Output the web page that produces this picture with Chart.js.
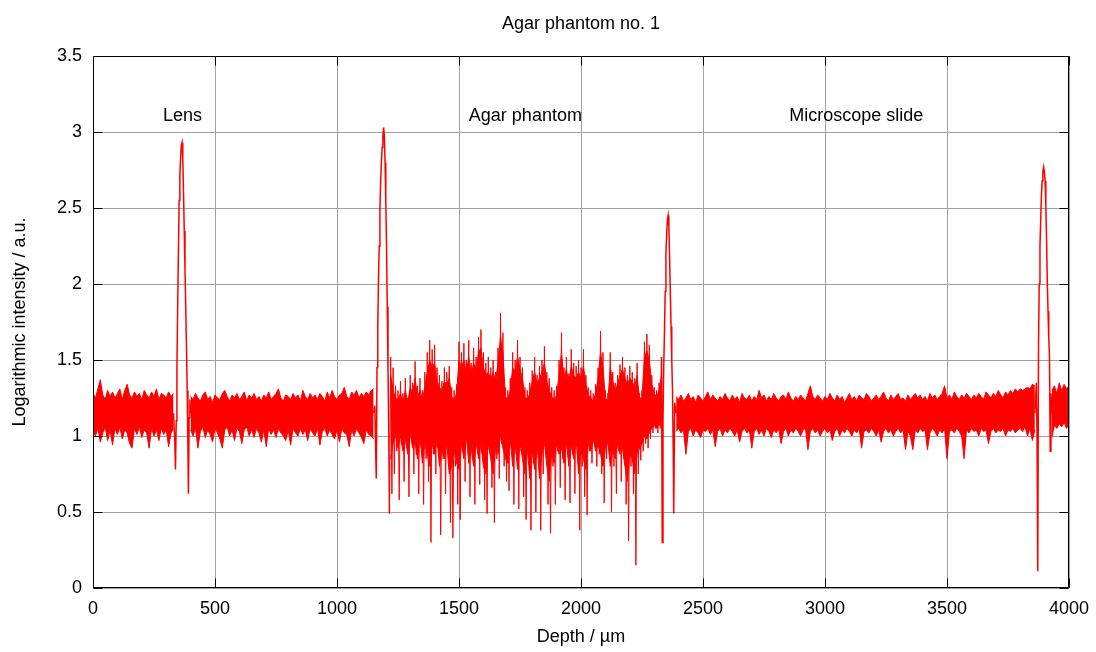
<!DOCTYPE html>
<html>
<head>
<meta charset="utf-8">
<script src="https://cdn.jsdelivr.net/npm/chart.js@4.4.1/dist/chart.umd.min.js"></script>
<style>
html,body{margin:0;padding:0;background:#fff;}
#wrap{width:1096px;height:652px;}
</style>
</head>
<body>
<div id="wrap"><canvas id="c" width="1096" height="652"></canvas></div>
<script>
// ===== data: depth in µm, logarithmic intensity in a.u. =====
// Dense noise bands (upper / lower edge of the densely sampled signal, read per 10 µm)
const airDepth = [0,10,20,30,40,50,60,70,80,90,100,110,120,130,140,150,160,170,180,190,200,210,220,230,240,250,260,270,280,290,300,310,320,330];
const airUpper = [1.28,1.25,1.31,1.37,1.27,1.24,1.30,1.26,1.29,1.25,1.28,1.31,1.24,1.30,1.34,1.27,1.25,1.29,1.26,1.28,1.24,1.30,1.27,1.25,1.29,1.26,1.31,1.24,1.28,1.27,1.25,1.29,1.26,1.28];
const airLower = [1.03,1.00,1.05,0.96,1.02,1.06,0.97,1.04,0.94,1.05,1.01,1.06,0.98,1.04,1.02,0.95,0.92,1.05,1.01,1.06,0.99,1.04,1.02,0.92,1.05,1.00,1.04,0.97,1.05,1.01,1.04,0.93,1.02,1.05];

const gapDepth = [400,410,420,430,440,450,460,470,480,490,500,510,520,530,540,550,560,570,580,590,600,610,620,630,640,650,660,670,680,690,700,710,720,730,740,750,760,770,780,790,800,810,820,830,840,850,860,870,880,890,900,910,920,930,940,950,960,970,980,990,1000,1010,1020,1030,1040,1050,1060,1070,1080,1090,1100,1110,1120,1130,1140,1150];
const gapUpper = [1.26,1.24,1.28,1.25,1.23,1.27,1.29,1.24,1.26,1.22,
  1.27,1.25,1.24,1.28,1.30,1.26,1.23,1.27,1.25,1.28,
  1.24,1.26,1.29,1.23,1.27,1.25,1.28,1.24,1.26,1.23,
  1.27,1.25,1.29,1.24,1.26,1.28,1.31,1.25,1.23,1.27,
  1.26,1.24,1.28,1.25,1.27,1.23,1.30,1.26,1.24,1.28,
  1.25,1.27,1.24,1.28,1.26,1.23,1.29,1.25,1.30,1.26,
  1.24,1.27,1.28,1.32,1.26,1.24,1.29,1.27,1.30,1.25,
  1.28,1.26,1.29,1.27,1.30,1.31];
const gapLower = [1.04,1.00,1.05,0.92,1.03,1.06,0.99,1.04,1.01,0.96,
  1.05,1.02,0.98,0.92,1.04,1.06,1.00,1.04,0.97,1.05,
  1.03,0.95,1.04,1.06,1.00,1.04,0.99,1.05,1.02,0.96,
  1.04,0.93,1.05,1.01,1.04,0.99,1.05,1.02,1.00,0.97,
  1.04,0.94,1.05,1.02,1.00,1.05,1.01,1.04,0.97,1.05,
  1.02,1.00,1.05,0.94,1.03,1.05,1.00,1.04,1.01,0.98,
  1.04,0.96,1.05,1.02,1.01,0.93,1.04,1.00,1.05,1.02,
  0.99,0.95,1.04,1.01,1.00,0.98];

const agarCoreDepth = [1220,1230,1240,1250,1260,1270,1280,1290,1300,1310,
  1320,1330,1340,1350,1360,1370,1380,1390,1400,1410,
  1420,1430,1440,1450,1460,1470,1480,1490,1500,1510,
  1520,1530,1540,1550,1560,1570,1580,1590,1600,1610,
  1620,1630,1640,1650,1660,1670,1680,1690,1700,1710,
  1720,1730,1740,1750,1760,1770,1780,1790,1800,1810,
  1820,1830,1840,1850,1860,1870,1880,1890,1900,1910,
  1920,1930,1940,1950,1960,1970,1980,1990,2000,2010,
  2020,2030,2040,2050,2060,2070,2080,2090,2100,2110,
  2120,2130,2140,2150,2160,2170,2180,2190,2200,2210,
  2220,2230,2240,2250,2260,2270,2280,2290,2300,2310,
  2320,2330];
const agarCoreUpper = [1.40,1.30,1.25,1.24,1.28,1.22,1.30,1.22,1.32,1.28,
  1.38,1.26,1.30,1.24,1.32,1.42,1.50,1.45,1.48,1.36,
  1.32,1.30,1.36,1.34,1.38,1.26,1.24,1.28,1.50,1.45,
  1.50,1.42,1.52,1.40,1.48,1.44,1.55,1.58,1.45,1.40,
  1.42,1.38,1.42,1.36,1.48,1.65,1.55,1.26,1.24,1.30,
  1.45,1.42,1.52,1.44,1.38,1.26,1.24,1.28,1.36,1.42,
  1.34,1.38,1.42,1.48,1.36,1.30,1.26,1.24,1.27,1.40,
  1.55,1.38,1.44,1.35,1.46,1.40,1.38,1.42,1.38,1.46,
  1.34,1.27,1.25,1.23,1.28,1.38,1.55,1.45,1.25,1.23,
  1.45,1.36,1.30,1.34,1.40,1.44,1.38,1.34,1.38,1.36,
  1.32,1.40,1.24,1.26,1.52,1.56,1.50,1.34,1.28,1.26,
  1.30,1.40];
const agarCoreLower = [0.85,0.95,1.00,0.92,1.00,0.90,0.98,0.88,1.02,0.92,
  0.95,0.85,1.00,0.82,0.95,0.88,0.80,0.95,0.88,0.98,
  0.80,0.92,0.85,0.95,0.75,0.80,0.90,0.82,0.78,0.95,
  0.85,1.00,0.82,0.92,0.80,0.96,0.85,0.95,0.80,0.75,
  0.95,0.85,0.75,0.92,0.88,1.00,0.92,0.85,0.82,0.98,
  0.80,0.95,0.78,0.96,0.85,0.75,0.92,0.72,0.90,0.78,
  0.94,0.72,0.88,0.96,0.80,0.70,0.90,0.82,0.95,0.88,
  0.92,0.82,0.96,0.80,0.94,0.85,0.98,0.75,0.90,0.85,
  0.78,0.95,0.90,0.98,0.90,0.94,0.88,0.80,0.92,0.96,
  0.80,0.90,0.85,0.95,0.88,0.92,0.80,0.70,0.88,0.85,
  0.75,0.88,0.92,0.95,1.00,0.98,1.02,1.05,1.07,1.05,
  1.07,1.10];

const slideDepth = [2390,2400,2410,2420,2430,2440,2450,2460,2470,2480,
  2490,2500,2510,2520,2530,2540,2550,2560,2570,2580,
  2590,2600,2610,2620,2630,2640,2650,2660,2670,2680,
  2690,2700,2710,2720,2730,2740,2750,2760,2770,2780,
  2790,2800,2810,2820,2830,2840,2850,2860,2870,2880,
  2890,2900,2910,2920,2930,2940,2950,2960,2970,2980,
  2990,3000,3010,3020,3030,3040,3050,3060,3070,3080,
  3090,3100,3110,3120,3130,3140,3150,3160,3170,3180,
  3190,3200,3210,3220,3230,3240,3250,3260,3270,3280,
  3290,3300,3310,3320,3330,3340,3350,3360,3370,3380,
  3390,3400,3410,3420,3430,3440,3450,3460,3470,3480,
  3490,3500,3510,3520,3530,3540,3550,3560,3570,3580,
  3590,3600,3610,3620,3630,3640,3650,3660,3670,3680,
  3690,3700,3710,3720,3730,3740,3750,3760,3770,3780,
  3790,3800,3810,3820,3830,3840,3850,3860];
const slideUpper = [1.26,1.24,1.27,1.23,1.25,1.28,1.24,1.26,1.22,1.27,
  1.25,1.23,1.26,1.29,1.24,1.27,1.25,1.23,1.26,1.24,
  1.28,1.25,1.23,1.27,1.24,1.26,1.22,1.28,1.25,1.24,
  1.27,1.23,1.26,1.24,1.30,1.25,1.27,1.23,1.26,1.24,
  1.28,1.25,1.23,1.26,1.27,1.24,1.29,1.25,1.23,1.26,
  1.24,1.27,1.25,1.23,1.28,1.33,1.26,1.24,1.27,1.25,
  1.23,1.26,1.24,1.28,1.25,1.23,1.27,1.24,1.26,1.22,
  1.25,1.28,1.24,1.26,1.23,1.27,1.25,1.24,1.28,1.26,
  1.23,1.25,1.27,1.24,1.26,1.29,1.25,1.23,1.27,1.24,
  1.26,1.28,1.24,1.25,1.23,1.27,1.24,1.26,1.28,1.25,
  1.27,1.24,1.26,1.23,1.28,1.25,1.27,1.24,1.26,1.28,
  1.33,1.25,1.27,1.24,1.29,1.26,1.24,1.27,1.25,1.28,
  1.26,1.24,1.27,1.25,1.28,1.26,1.24,1.29,1.27,1.25,
  1.28,1.26,1.30,1.27,1.25,1.29,1.27,1.30,1.28,1.31,
  1.29,1.31,1.30,1.31,1.32,1.31,1.34,1.33];
const slideLower = [1.03,1.05,1.02,1.04,0.88,1.03,1.05,1.00,1.04,1.02,
  0.99,1.04,1.03,1.05,1.01,1.04,0.93,1.03,1.05,1.00,
  1.04,1.02,1.05,1.03,1.00,1.04,0.96,1.03,1.05,1.02,
  1.04,0.92,1.03,1.05,1.01,1.04,1.00,1.05,1.03,0.99,
  1.04,1.02,1.05,0.95,1.03,1.05,1.00,1.04,1.02,1.05,
  1.03,1.00,1.04,1.05,0.91,1.03,1.05,1.02,1.04,1.00,
  1.03,1.05,1.02,1.04,0.97,1.03,1.05,1.00,1.04,1.02,
  1.05,1.03,1.00,1.04,1.02,1.05,0.92,1.03,1.04,1.02,
  1.05,1.03,1.00,1.04,0.96,1.03,1.05,1.02,1.04,1.00,
  1.03,1.05,1.02,1.04,0.91,1.03,1.00,0.91,1.04,1.02,
  1.05,1.03,1.04,0.91,1.02,1.05,1.03,1.00,1.04,1.02,
  1.05,0.85,1.03,1.04,1.02,1.05,1.03,1.00,0.85,1.04,
  1.02,1.05,1.03,1.04,1.00,1.05,1.03,1.04,0.95,1.03,
  1.05,1.02,1.04,1.03,1.05,1.00,1.04,1.03,1.05,1.02,
  1.04,1.05,1.03,1.06,1.00,1.05,0.97,1.04];

const tailDepth = [3930,3940,3950,3960,3970,3980,3990,4000];
const tailUpper = [1.30,1.33,1.28,1.35,1.30,1.34,1.31,1.33];
const tailLower = [0.99,1.07,1.05,1.08,1.06,1.09,1.05,1.07];

// Sharp reflections and the strongly scattering agar (single trace)
const lensDepth = [330,335,338,341,344,347,350,353,356,359,362,365,368,371,374,377,380,383,386,389,391,394,397,400];
const lensIntensity = [1.15,0.98,0.78,1.10,1.45,1.85,2.20,2.55,2.72,2.83,2.91,2.93,2.82,2.60,2.35,2.10,1.85,1.60,1.30,0.95,0.62,1.12,1.24,1.15];

const surfaceDepth = [1150,1155,1158,1161,1164,1167,1170,1173,1176,1179,1182,1185,1188,1191,1194,1197,1200,1203,1206,1209,1212,1215];
const surfaceIntensity = [1.15,1.20,0.95,0.72,1.45,1.70,2.03,2.25,2.50,2.68,2.80,2.90,2.97,3.03,2.98,2.80,2.55,2.25,1.85,1.45,1.05,0.49];

const agarDepth = [1215,1220,1225,1230,1235,1240,1245,1250,1255,1260,1265,1270,1275,1280,1285,1290,1295,1300,1305,1310,1315,
  1320,1325,1330,1335,1340,1345,1350,1355,1360,1365,1370,1375,1380,1385,1390,1395,1400,1405,1410,1415,
  1420,1425,1430,1435,1440,1445,1450,1455,1460,1465,1470,1475,1480,1485,1490,1495,1500,1505,1510,1515,
  1520,1525,1530,1535,1540,1545,1550,1555,1560,1565,1570,1575,1580,1585,1590,1595,1600,1605,1610,1615,
  1620,1625,1630,1635,1640,1645,1650,1655,1660,1665,1670,1675,1680,1685,1690,1695,1700,1705,1710,1715,
  1720,1725,1730,1735,1740,1745,1750,1755,1760,1765,1770,1775,1780,1785,1790,1795,1800,1805,1810,1815,
  1820,1825,1830,1835,1840,1845,1850,1855,1860,1865,1870,1875,1880,1885,1890,1895,1900,1905,1910,1915,
  1920,1925,1930,1935,1940,1945,1950,1955,1960,1965,1970,1975,1980,1985,1990,1995,2000,2005,2010,2015,
  2020,2025,2030,2035,2040,2045,2050,2055,2060,2065,2070,2075,2080,2085,2090,2095,2100,2105,2110,2115,
  2120,2125,2130,2135,2140,2145,2150,2155,2160,2165,2170,2175,2180,2185,2190,2195,2200,2205,2210,2215,
  2220,2225,2230,2235,2240,2245,2250,2255,2260,2265,2270,2275,2280,2285,2290,2295,2300,2305,2310,2315,
  2320,2325,2330];
const agarIntensity = [0.49,1.52,0.62,1.45,0.75,1.33,0.90,1.30,0.58,1.36,0.95,1.28,0.70,1.38,0.92,1.25,0.60,1.40,0.98,1.35,0.75,
  1.49,0.88,1.33,0.62,1.38,0.96,1.30,0.55,1.42,0.85,1.55,0.70,1.63,0.30,1.57,0.88,1.60,0.75,1.45,0.92,
  1.40,0.35,1.36,0.85,1.45,0.62,1.42,0.90,1.46,0.43,1.32,0.33,1.30,0.80,1.34,0.55,1.62,0.45,1.55,0.90,
  1.61,0.70,1.50,0.95,1.63,0.60,1.48,0.85,1.58,0.55,1.52,0.92,1.65,0.68,1.70,0.88,1.55,0.58,1.48,0.49,
  1.52,0.90,1.45,0.66,1.50,0.43,1.42,0.85,1.58,0.72,1.81,0.95,1.68,0.80,1.32,0.70,1.30,0.64,1.38,0.92,
  1.55,0.55,1.50,0.88,1.63,0.52,1.52,0.90,1.45,0.60,1.32,0.45,1.30,0.85,1.35,0.38,1.43,0.82,1.52,0.50,
  1.40,0.88,1.46,0.38,1.50,0.75,1.59,0.90,1.42,0.55,1.38,0.36,1.32,0.80,1.30,0.55,1.33,0.90,1.50,0.66,
  1.68,0.85,1.45,0.58,1.52,0.92,1.41,0.56,1.57,0.88,1.48,0.62,1.46,0.95,1.50,0.38,1.45,0.80,1.57,0.60,
  1.40,0.48,1.32,0.90,1.30,0.82,1.28,0.95,1.34,0.80,1.45,0.88,1.69,0.75,1.55,0.56,1.30,0.85,1.28,0.92,
  1.55,0.50,1.42,0.80,1.35,0.62,1.40,0.90,1.47,0.70,1.52,0.85,1.45,0.55,1.40,0.31,1.46,0.80,1.42,0.62,
  1.38,0.15,1.48,0.75,1.28,0.84,1.30,0.90,1.62,0.95,1.67,0.92,1.60,0.98,1.40,1.02,1.32,1.05,1.30,1.02,
  1.35,1.05,1.52];

const agarBottomDepth = [2330,2333,2336,2339,2342,2345,2348,2351,2354,2357,2360,2363,2366,2369,2372,2375,2378,2380,2384,2390];
const agarBottomIntensity = [1.52,0.30,1.10,1.45,1.68,1.95,2.20,2.32,2.42,2.45,2.38,2.18,1.95,1.72,1.50,1.30,0.90,0.49,1.22,1.15];

const slideBackDepth = [3860,3866,3869,3872,3875,3878,3881,3884,3887,3890,3893,3896,3899,3902,3905,3908,3911,3914,3917,3920,3923,3926,3930];
const slideBackIntensity = [1.15,1.35,1.00,0.11,1.60,2.00,2.25,2.42,2.58,2.68,2.74,2.77,2.74,2.68,2.52,2.30,2.02,1.82,1.65,1.52,0.90,1.28,1.15];

const depthTicks = [0,500,1000,1500,2000,2500,3000,3500,4000];
const intensityTicks = [0,0.5,1,1.5,2,2.5,3,3.5];

const chartTitle = 'Agar phantom no. 1';
const xTitle = 'Depth / µm';
const yTitle = 'Logarithmic intensity / a.u.';
const regionLabels = ['Lens', 'Agar phantom', 'Microscope slide'];
const regionLabelDepth = [367, 1772, 3128];
const regionLabelLevel = 3.07;

// ===== build datasets =====
const RED = '#ff0000';
const zip = (d, v) => d.map((x, i) => ({x, y: v[i]}));
const bands = [
  [airDepth, airUpper, airLower],
  [gapDepth, gapUpper, gapLower],
  [agarCoreDepth, agarCoreUpper, agarCoreLower],
  [slideDepth, slideUpper, slideLower],
  [tailDepth, tailUpper, tailLower]
];
const traces = [
  [lensDepth, lensIntensity, 1.5],
  [surfaceDepth, surfaceIntensity, 1.5],
  [agarDepth, agarIntensity, 1.0],
  [agarBottomDepth, agarBottomIntensity, 1.5],
  [slideBackDepth, slideBackIntensity, 1.5]
];
const datasets = [];
bands.forEach(([d, up, lo]) => {
  datasets.push({data: zip(d, up), borderColor: RED, borderWidth: 1, pointRadius: 0, tension: 0, fill: false});
  datasets.push({data: zip(d, lo), borderColor: RED, borderWidth: 1, pointRadius: 0, tension: 0, fill: '-1', backgroundColor: RED});
});
traces.forEach(([d, v, w]) => {
  datasets.push({data: zip(d, v), borderColor: RED, borderWidth: w, pointRadius: 0, tension: 0, fill: false});
});

const FONT = {family: '"Liberation Sans", Arial, Helvetica, sans-serif', size: 18};
const align = p => Math.floor(p) + 0.5;

const framePlugin = {
  id: 'frame',
  afterDraw(chart) {
    const {ctx, chartArea: a, scales} = chart;
    const xs = scales.x, ys = scales.y;
    ctx.save();
    ctx.strokeStyle = '#000';
    ctx.lineWidth = 1;
    const L = align(a.left), R = align(a.right - 1), T = align(a.top), B = align(a.bottom - 1);
    ctx.beginPath();
    ctx.rect(L, T, R - L, B - T);
    ctx.stroke();
    const TL = 9;
    ctx.beginPath();
    depthTicks.forEach(v => {
      const px = align(xs.getPixelForValue(v));
      ctx.moveTo(px, B); ctx.lineTo(px, B - TL);
      ctx.moveTo(px, T); ctx.lineTo(px, T + TL);
    });
    intensityTicks.forEach(v => {
      const py = align(ys.getPixelForValue(v));
      ctx.moveTo(L, py); ctx.lineTo(L + TL, py);
      ctx.moveTo(R, py); ctx.lineTo(R - TL, py);
    });
    ctx.stroke();
    ctx.fillStyle = '#000';
    ctx.font = '18px "Liberation Sans", Arial, Helvetica, sans-serif';
    ctx.textAlign = 'center';
    ctx.textBaseline = 'alphabetic';
    ctx.fillText(chartTitle, (a.left + a.right) / 2, 29);
    regionLabels.forEach((t, i) => {
      ctx.fillText(t, xs.getPixelForValue(regionLabelDepth[i]), ys.getPixelForValue(regionLabelLevel));
    });
    ctx.restore();
  }
};

new Chart(document.getElementById('c'), {
  type: 'line',
  data: {datasets},
  options: {
    responsive: false,
    animation: false,
    devicePixelRatio: 1,
    parsing: false,
    normalized: true,
    layout: {padding: {top: 56, right: 27, left: 0, bottom: 0}},
    plugins: {legend: {display: false}, title: {display: false}, tooltip: {enabled: false}, filler: {propagate: false}},
    scales: {
      x: {
        type: 'linear', min: 0, max: 4000,
        afterBuildTicks(s) { s.ticks = depthTicks.map(v => ({value: v})); },
        afterFit(s) { s.height = 64; s.paddingLeft = 0; s.paddingRight = 0; },
        ticks: {callback: v => String(v), color: '#000', font: FONT, padding: 10, maxRotation: 0, autoSkip: false},
        grid: {color: '#a0a0a0', lineWidth: 1, drawTicks: false},
        border: {display: false},
        title: {display: true, text: xTitle, color: '#000', font: FONT, padding: {top: 0, bottom: 4}}
      },
      y: {
        type: 'linear', min: 0, max: 3.5,
        afterBuildTicks(s) { s.ticks = intensityTicks.map(v => ({value: v})); },
        afterFit(s) { s.width = 93; s.paddingTop = 0; s.paddingBottom = 0; },
        ticks: {callback: v => String(v), color: '#000', font: FONT, padding: 11, autoSkip: false},
        grid: {color: '#a0a0a0', lineWidth: 1, drawTicks: false},
        border: {display: false},
        title: {display: true, text: yTitle, color: '#000', font: FONT, padding: {top: 9, bottom: 0}}
      }
    }
  },
  plugins: [framePlugin]
});
</script>
</body>
</html>
